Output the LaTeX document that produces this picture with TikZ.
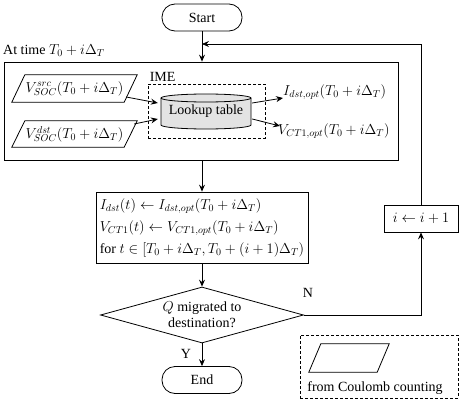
\documentclass[tikz,border=0pt]{standalone}
\usepackage{fontspec}
\setmainfont{Liberation Serif}
\usetikzlibrary{arrows.meta,shapes.geometric}
\begin{document}
\begin{tikzpicture}[x=1pt,y=1pt,
  every node/.style={font=\fontsize{14}{16}\selectfont, inner sep=0pt},
  line/.style={line width=0.8pt},
  arr/.style={line width=0.8pt,-{Stealth[length=7pt,width=6pt,inset=2.5pt]}},
  term/.style={draw,line width=0.8pt,rounded corners=13pt,minimum width=80pt,minimum height=27pt},
  proc/.style={draw,line width=0.8pt},
  iobox/.style={rectangle},
  dashbox/.style={draw,line width=0.8pt,dash pattern=on 3pt off 2pt}
]
\useasboundingbox (0,0) rectangle (463,400);

% start
\node[term] (start) at (202,382.5) {Start};

% big box
\node[anchor=west] (attime) at (3,349) {At time $T_0+i\Delta_T$};
\node[proc,minimum width=394pt,minimum height=98pt] (bigbox) at (201,289) {};
\node[iobox,minimum width=125pt,minimum height=27pt] (src) at (74.5,311.5) {$V_{SOC}^{src}(T_0+i\Delta_T)$};
\draw[line] (src.south west) -- ([xshift=13pt]src.north west) -- (src.north east) -- ([xshift=-13pt]src.south east) -- cycle;
\node[iobox,minimum width=125pt,minimum height=26pt] (dst) at (74.5,266) {$V_{SOC}^{dst}(T_0+i\Delta_T)$};
\draw[line] (dst.south west) -- ([xshift=13pt]dst.north west) -- (dst.north east) -- ([xshift=-13pt]dst.south east) -- cycle;
\node[dashbox,minimum width=117pt,minimum height=54pt] (ime) at (206.5,289) {};
\node[anchor=south west] (imelab) at ([xshift=2pt,yshift=2pt]ime.north west) {IME};
\filldraw[line,fill=gray!22] (161,302) -- (161,275) arc[start angle=180,end angle=360,x radius=45,y radius=4]
  -- (251,302) arc[start angle=0,end angle=180,x radius=45,y radius=4] -- cycle;
\draw[line] (161,302) arc[start angle=180,end angle=360,x radius=45,y radius=4];
\node[minimum width=90pt,minimum height=35pt] (lut) at (206,288.5) {Lookup table};
\node[anchor=west] (iout) at (283,308) {$I_{dst,opt}(T_0+i\Delta_T)$};
\node[anchor=west] (vout) at (278,269) {$V_{CT1,opt}(T_0+i\Delta_T)$};

\draw[arr] ([shift={(-11,-8.5)}]src.east) -- ([shift={(-3,8.5)}]lut.west);
\draw[arr] ([shift={(-3,10)}]dst.east) -- ([shift={(-3,-7.5)}]lut.west);
\draw[arr] ([shift={(1,8.5)}]lut.east) -- ([shift={(0,-6)}]iout.west);
\draw[arr] ([shift={(1,-7.5)}]lut.east) -- ([shift={(2,5)}]vout.west);

% update box
\node[proc,minimum width=212pt,minimum height=71pt,align=left,font=\fontsize{14}{22}\selectfont] (upd) at (202,172.5)
  {$I_{dst}(t)\leftarrow I_{dst,opt}(T_0+i\Delta_T)$\\
   $V_{CT1}(t)\leftarrow V_{CT1,opt}(T_0+i\Delta_T)$\\
   for $t\in[T_0+i\Delta_T,T_0+(i+1)\Delta_T)$};

% decision
\node[diamond,aspect=3.6,draw,line width=0.8pt,minimum width=203pt,minimum height=56pt,align=center] (dec) at (202,85)
  {$Q$ migrated to\\destination?};
\node[term] (end) at (202,20) {End};
\node (ylab) at (186,46) {Y};
\node (nlab) at (308,107) {N};

% increment
\node[proc,minimum width=74pt,minimum height=27pt] (inc) at (421,181.5) {$i\leftarrow i+1$};
\coordinate (fb) at (421,356);

% legend
\node[dashbox,minimum width=158pt,minimum height=63pt] (leg) at (379,33.5) {};
\node[iobox,minimum width=80pt,minimum height=28pt] (legio) at (349,42) {};
\draw[line] (legio.south west) -- ([xshift=12pt]legio.north west) -- (legio.north east) -- ([xshift=-12pt]legio.south east) -- cycle;
\node (legtxt) at (375,12) {from Coulomb counting};

% connectors
\draw[arr] (start.south) -- (start.south |- bigbox.north);
\draw[arr] (upd.north |- bigbox.south) -- (upd.north);
\draw[arr] (upd.south) -- (dec.north);
\draw[arr] (dec.south) -- (end.north);
\draw[arr] (dec.east) -| (inc.south);
\draw[arr] (inc.north) -- (fb) -- (start.south |- fb);
\end{tikzpicture}
\end{document}
